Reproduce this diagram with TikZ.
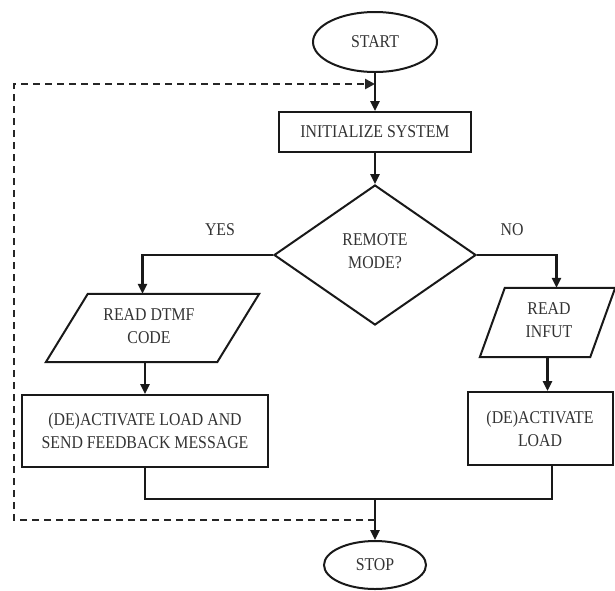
\documentclass[tikz,border=0pt]{standalone}
\usepackage{fontspec}
\setmainfont{Liberation Serif}[FakeStretch=0.88]
\usetikzlibrary{shapes.geometric,arrows.meta,calc}
\begin{document}
\begin{tikzpicture}[x=1pt,y=-1pt,
  every node/.style={font=\fontsize{18}{23}\selectfont, text=black!80, align=center, inner sep=0pt},
  border/.style={draw=black!90, line width=2pt},
  procbox/.style={border, rectangle},
  termbox/.style={border, ellipse},
  decbox/.style={border, diamond, shape aspect=1.45},
  iobox/.style={rectangle},
  conn/.style={draw=black!90, line width=2.4pt},
  arr/.style={conn, -{Triangle[length=10pt,width=9pt]}},
  loopline/.style={draw=black!85, line width=2.8pt, dash pattern=on 7pt off 5pt, -{Triangle[length=10pt,width=10pt]}},
  lbl/.style={font=\fontsize{18}{18}\selectfont}
]
\useasboundingbox (0,0) rectangle (615,590);

% nodes
\node[termbox, minimum width=124pt, minimum height=60pt] (start) at (375,42) {START};
\node[procbox, minimum width=192pt, minimum height=40pt] (init) at (375,132) {INITIALIZE SYSTEM};
\node[decbox, minimum width=202pt, minimum height=140pt] (dia) at (375,255) {};
\node (diatxt) at (375,251) {REMOTE\\MODE?};
\node[iobox, minimum width=213pt, minimum height=68pt] (dtmf) at (152.5,328) {};
\node (dtmftxt) at (149,326) {READ DTMF\\CODE};
\node[iobox, minimum width=135pt, minimum height=69pt] (input) at (547.5,322.5) {};
\node (inputtxt) at (549,320) {READ\\INFUT};
\node[procbox, minimum width=246pt, minimum height=72pt] (load1) at (145,431) {(DE)ACTIVATE LOAD AND\\SEND FEEDBACK MESSAGE};
\node[procbox, minimum width=145pt, minimum height=73pt] (load2) at (540,428.5) {(DE)ACTIVATE\\LOAD};
\node[termbox, minimum width=102pt, minimum height=48pt] (stop) at (375,565) {STOP};
\node[lbl] (yes) at (220,230) {YES};
\node[lbl] (no) at (512,230) {NO};

% parallelograms
\draw[border] (dtmf.south west) -- ([xshift=-42pt]dtmf.south east) -- (dtmf.north east) -- ([xshift=42pt]dtmf.north west) -- cycle;
\draw[border] (input.south west) -- ([xshift=-25pt]input.south east) -- (input.north east) -- ([xshift=25pt]input.north west) -- cycle;

% connectors
\coordinate (j) at (375,499);
\coordinate (d) at (375,520);
\coordinate (dl) at (14,520);
\coordinate (dt) at (14,84);

\draw[arr] (start.south) -- (init.north);
\draw[arr] (init.south) -- (dia.north);
\draw[arr] (dia.west) -| ([xshift=-10pt]dtmf.north);
\draw[arr] (dia.east) -| ([xshift=9pt]input.north);
\draw[arr] (dtmf.south -| load1.north) -- (load1.north);
\draw[arr] (input.south) -- (input.south |- load2.north);
\draw[conn] (load1.south) -- (load1.south |- j) -- ([xshift=12pt]load2.south |- j) -- ([xshift=12pt]load2.south);
\draw[arr] (j) -- (stop.north);
\draw[loopline] (d) -- (dl) -- (dt) -- (start.south |- dt);
\end{tikzpicture}
\end{document}
